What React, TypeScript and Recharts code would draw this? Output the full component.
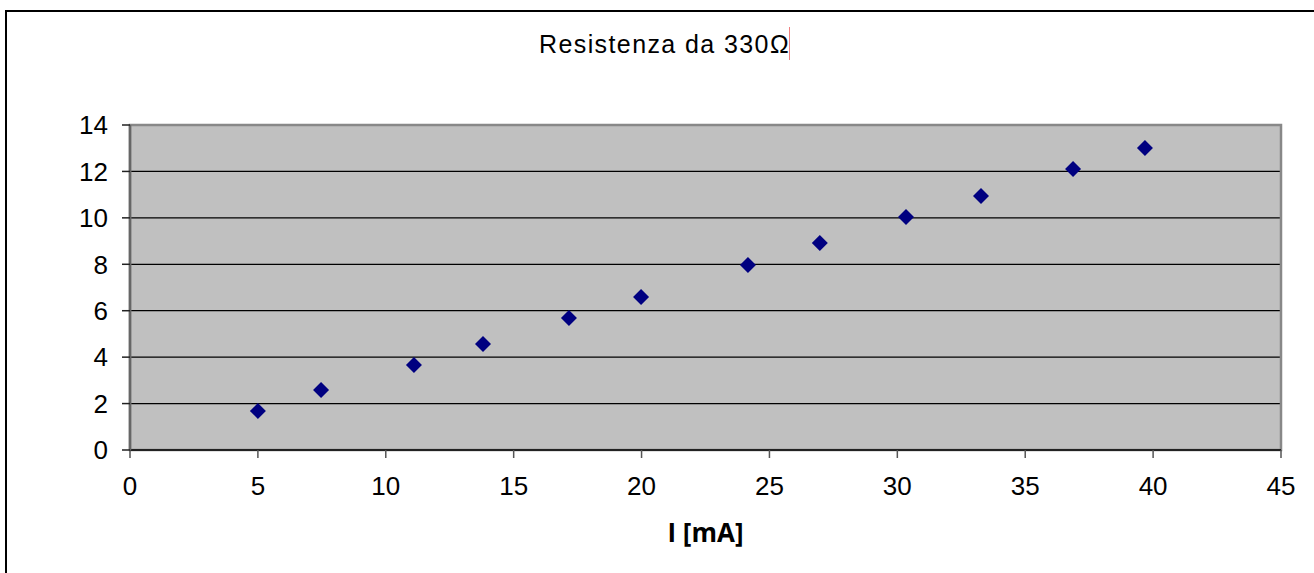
import { ScatterChart, Scatter, XAxis, YAxis, CartesianGrid, ReferenceArea } from 'recharts';

// I [mA] and V readings for the 330 ohm resistor
const currentMA = [5.0, 7.47, 11.1, 13.8, 17.16, 19.98, 24.16, 26.97, 30.34, 33.27, 36.87, 39.68];
const voltage = [1.68, 2.58, 3.66, 4.57, 5.69, 6.59, 7.97, 8.92, 10.04, 10.94, 12.1, 13.01];
const xTicks = [0, 5, 10, 15, 20, 25, 30, 35, 40, 45];
const yTicks = [0, 2, 4, 6, 8, 10, 12, 14];

const points = currentMA.map((x, i) => ({ x, y: voltage[i] }));

const FONT = '"Liberation Sans", Arial, sans-serif';

// Excel-style diamond marker
const Diamond = (props: any) => {
    const { cx, cy } = props;
    const r = 8;
    return (
        <polygon
            points={`${cx},${cy - r} ${cx + r},${cy} ${cx},${cy + r} ${cx - r},${cy}`}
            fill="#000080"
        />
    );
};

export default function App() {
    return (
        <div style={{ position: 'absolute', left: 0, top: 0, width: 1314, height: 573, background: '#fff', overflow: 'hidden' }}>
            {/* chart frame */}
            <div style={{ position: 'absolute', left: 5, top: 10, width: 1400, height: 700, borderLeft: '2px solid #000', borderTop: '2px solid #000' }} />
            <div
                style={{
                    position: 'absolute',
                    top: 30,
                    left: 539,
                    whiteSpace: 'nowrap',
                    fontFamily: FONT,
                    fontSize: 25,
                    letterSpacing: 1.4,
                    color: '#000',
                }}
            >
                Resistenza da 330Ω
            </div>
            <div style={{ position: 'absolute', left: 789, top: 27, width: 1, height: 33, background: '#f08080' }} />
            <ScatterChart width={1314} height={573} margin={{ top: 125, right: 33, left: 0, bottom: 0 }} style={{ position: 'absolute', left: 0, top: 0 }}>
                <CartesianGrid vertical={false} fill="#c0c0c0" stroke="#000" strokeWidth={1.2} />
                <XAxis
                    type="number"
                    dataKey="x"
                    domain={[0, 45]}
                    ticks={xTicks}
                    interval={0}
                    height={123}
                    tickSize={8}
                    tickMargin={19}
                    tick={{ fill: '#000', fontSize: 26, fontFamily: FONT }}
                    tickLine={{ stroke: '#555', strokeWidth: 1.5 }}
                    axisLine={{ stroke: '#222', strokeWidth: 2 }}
                    label={{ value: 'I [mA]', position: 'insideBottom', offset: 31, fill: '#000', fontSize: 26, fontWeight: 'bold', fontFamily: '"Open Sans", "DejaVu Sans", sans-serif' }}
                />
                <YAxis
                    type="number"
                    dataKey="y"
                    domain={[0, 14]}
                    ticks={yTicks}
                    interval={0}
                    width={130}
                    tickSize={8}
                    tickMargin={14}
                    tick={{ fill: '#000', fontSize: 26, fontFamily: FONT }}
                    tickLine={{ stroke: '#222', strokeWidth: 1.5 }}
                    axisLine={{ stroke: '#666', strokeWidth: 2.5 }}
                />
                <ReferenceArea x1={0} x2={45} y1={0} y2={14} fill="none" stroke="#888" strokeWidth={2.5} ifOverflow="visible" />
                <Scatter data={points} shape={Diamond} isAnimationActive={false} />
            </ScatterChart>
        </div>
    );
}
